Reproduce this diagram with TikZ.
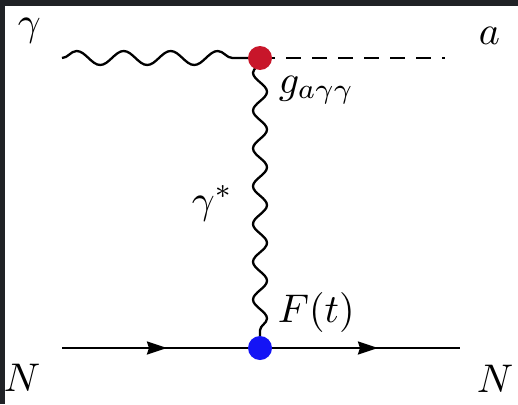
\documentclass[tikz,border=0pt]{standalone}
\usetikzlibrary{decorations.pathmorphing,decorations.markings,arrows.meta}
\definecolor{framecol}{RGB}{32,34,38}
\definecolor{vred}{RGB}{200,22,42}
\definecolor{vblue}{RGB}{20,20,245}
\tikzset{
  photon/.style={line width=2.3pt, decorate, decoration={snake, amplitude=7pt}},
  scalar/.style={line width=2.3pt, dash pattern=on 15pt off 11pt},
  fermion/.style={line width=2.3pt},
  vtx/.style={circle, inner sep=0pt, minimum size=24pt},
  lbl/.style={inner sep=0pt, anchor=base west, scale=4},
  farrow/.style={postaction={decorate}, decoration={markings,
     mark=at position #1 with {\arrow{Stealth[length=20pt,width=13pt,inset=2pt]}}}}
}
\begin{document}
\begin{tikzpicture}[x=1pt,y=-1pt]
\useasboundingbox (0,0) rectangle (518,404);
\fill[framecol] (0,0) rectangle (518,404);
\fill[white] (5,6) rectangle (518,404);
% coordinates
\coordinate (gin) at (62,58);
\coordinate (aout) at (445,58);
\coordinate (Nin) at (62,348);
\coordinate (Nout) at (460,348);
\node[vtx] (top) at (260,58) {};
\node[vtx] (bot) at (260,348) {};
% lines
\draw[photon, decoration={segment length=47pt, post length=8pt}] (gin) -- (top.center);
\draw[photon, decoration={segment length=37.8pt, mirror, pre length=3pt, post length=3pt}] (top.center) -- (bot.center);
\draw[scalar] (top.center) -- (aout);
\draw[fermion, farrow=0.53] (Nin) -- (bot.center);
\draw[fermion, farrow=0.59] (bot.center) -- (Nout);
% vertices
\fill[vred] (top) circle (12pt);
\fill[vblue] (bot) circle (12pt);
% labels
\node[lbl] (lg) at (17,35) {$\gamma$};
\node[lbl] (la) at (478,45) {$a$};
\node[lbl] (lNl) at (3,391) {$N$};
\node[lbl] (lNr) at (476,392) {$N$};
\node[lbl] (lgc) at (278,93) {$g_{a\gamma\gamma}$};
\node[lbl] (lgs) at (191,213) {$\gamma^*$};
\node[lbl] (lF) at (277,322) {$F(t)$};
\end{tikzpicture}
\end{document}
